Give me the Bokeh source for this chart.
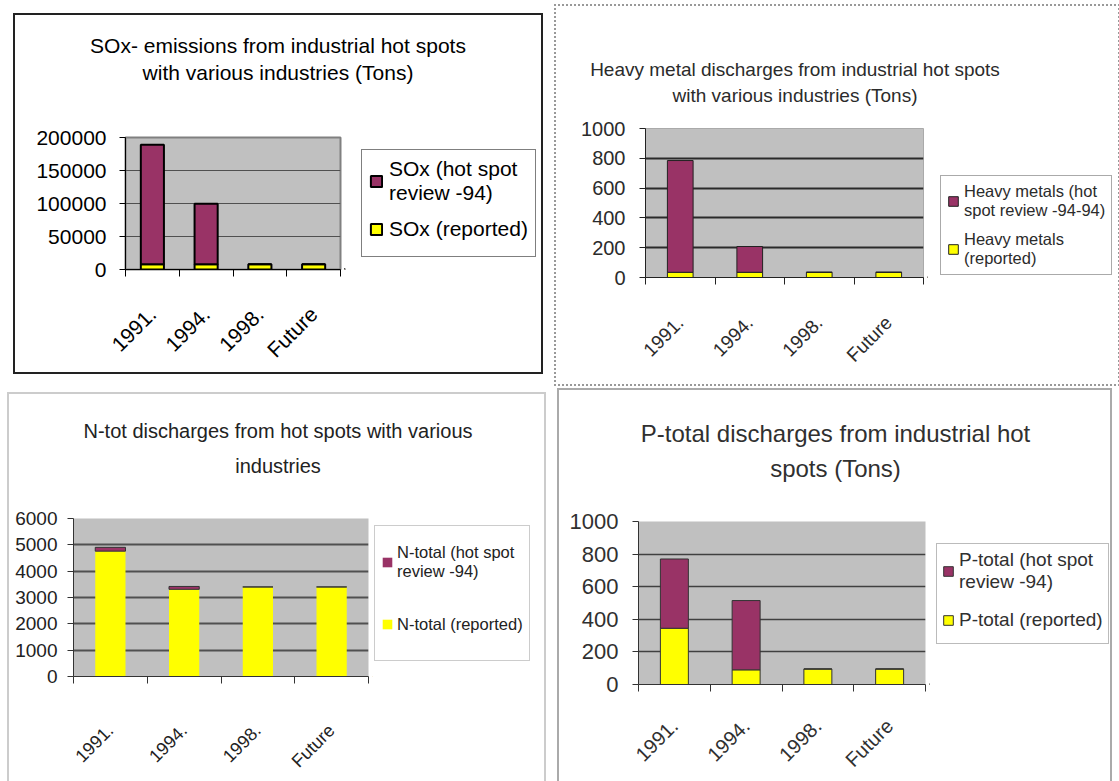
import math
from bokeh.plotting import figure
from bokeh.models import (ColumnDataSource, Range1d, FixedTicker, Spacer, Label,
                          Legend, LegendItem, BasicTickFormatter)
from bokeh.layouts import row, column
from bokeh.embed import file_html
from bokeh.resources import INLINE

categories = ["1991.", "1994.", "1998.", "Future"]

sox_reported = [8000, 8000, 8000, 8000]
sox_hotspot = [181000, 91500, 0, 0]
sox_ticks = [0, 50000, 100000, 150000, 200000]
sox_title = ["SOx- emissions from industrial hot spots", "with various industries (Tons)"]
sox_legend = ["SOx (hot spot\nreview -94)", "SOx (reported)"]

hm_reported = [35, 35, 35, 35]
hm_hotspot = [750, 173, 0, 0]
hm_ticks = [0, 200, 400, 600, 800, 1000]
hm_title = ["Heavy metal discharges from industrial hot spots", "with various industries (Tons)"]
hm_legend = ["Heavy metals (hot\nspot review -94-94)", "Heavy metals\n(reported)"]

n_reported = [4760, 3310, 3400, 3400]
n_hotspot = [145, 110, 0, 0]
n_ticks = [0, 1000, 2000, 3000, 4000, 5000, 6000]
n_title = ["N-tot discharges from hot spots with various", "industries"]
n_legend = ["N-total (hot spot\nreview -94)", "N-total (reported)"]

p_reported = [345, 90, 95, 95]
p_hotspot = [425, 425, 0, 0]
p_ticks = [0, 200, 400, 600, 800, 1000]
p_title = ["P-total discharges from industrial hot", "spots (Tons)"]
p_legend = ["P-total (hot spot\nreview -94)", "P-total (reported)"]

YELLOW = "#FFFF00"
PURPLE = "#993366"
FONT = "Liberation Sans"


def bare_figure(w, h):
    f = figure(width=w, height=h, x_range=Range1d(0, w), y_range=Range1d(0, h),
               output_backend="svg", toolbar_location=None, title_location=None,
               x_axis_location=None, y_axis_location=None,
               min_border_left=0, min_border_right=0, min_border_top=0, min_border_bottom=0,
               background_fill_color="white", border_fill_color="white")
    f.outline_line_color = None
    f.grid.visible = False
    return f


def make_panel(reported, hotspot, ticks, title_lines, legend_labels, g):
    Wi, Hi = g["inner"]
    Ht = g["title_h"]
    Wp = g["plot_w"]
    Hp = Hi - Ht
    mbl, mbt, mbr, mbb = g["mb"]
    tc = g["text_color"]
    n = len(categories)
    centers = [i + 0.5 for i in range(n)]

    # ---- title strip
    tf = bare_figure(Wi, Ht)
    for txt, (tx, ty) in zip(title_lines, g["title_xy"]):
        tf.add_layout(Label(x=tx, y=ty, text=txt, text_align="center",
                            text_baseline="alphabetic", text_font=FONT,
                            text_font_size=f"{g['title_fs']}px", text_color=tc))

    # ---- plot
    p = figure(width=Wp, height=Hp, x_range=Range1d(0, n),
               y_range=Range1d(0, ticks[-1]), output_backend="svg",
               toolbar_location=None, title_location=None,
               min_border_left=mbl, min_border_top=mbt,
               min_border_right=mbr, min_border_bottom=mbb,
               background_fill_color="#C0C0C0", border_fill_color="white")
    p.outline_line_color = g["outline"]
    p.outline_line_width = g.get("outline_w", 1)

    ya = p.yaxis[0]
    ya.ticker = FixedTicker(ticks=ticks)
    ya.formatter = BasicTickFormatter(use_scientific=False)
    ya.major_label_text_font = FONT
    ya.major_label_text_font_size = g["ytick_fs"]
    ya.major_label_text_color = tc
    ya.major_tick_out = 6
    ya.major_tick_in = 0
    ya.major_tick_line_color = g["axis_color"]
    ya.minor_tick_line_color = None
    ya.axis_line_color = g["axis_color"]
    ya.major_label_standoff = g["ystandoff"]
    p.ygrid.ticker = FixedTicker(ticks=ticks)
    p.ygrid.grid_line_color = g["grid_color"]
    p.ygrid.grid_line_width = g["grid_w"]
    p.xgrid.visible = False

    xa = p.xaxis[0]
    xa.ticker = FixedTicker(ticks=centers, minor_ticks=list(range(n + 1)))
    xa.major_label_overrides = {c: lab for c, lab in zip(centers, categories)}
    xa.major_label_orientation = math.pi / 4
    xa.major_tick_line_color = None
    xa.major_tick_out = 0
    xa.major_tick_in = 0
    xa.minor_tick_line_color = g["axis_color"]
    xa.minor_tick_out = 7
    xa.minor_tick_in = 0
    xa.axis_line_color = g["axis_color"]
    xa.major_label_standoff = g["xstandoff"]
    xa.major_label_text_font = FONT
    xa.major_label_text_font_size = g["xtick_fs"]
    xa.major_label_text_color = tc

    src = ColumnDataSource(dict(x=centers, reported=reported, hotspot=hotspot))
    p.vbar_stack(["reported", "hotspot"], x="x", width=g["bw"], source=src,
                 fill_color=[YELLOW, PURPLE], line_color=g["bar_lc"],
                 line_width=g["bar_lw"])

    # ---- legend strip (its frame is aligned with the plot frame by the row)
    Wl = Wi - Wp
    lf = bare_figure(Wl, Hp)
    lg = g["legend"]
    # legend swatches: one off-view bar each so the legend has a glyph to draw
    r_hot = lf.vbar(x=[-50], top=[1], width=0.5, fill_color=PURPLE,
                    line_color=lg["glyph_lc"], line_width=g["bar_lw"])
    r_rep = lf.vbar(x=[-50], top=[1], width=0.5, fill_color=YELLOW,
                    line_color=lg["glyph_lc"], line_width=g["bar_lw"])
    fs = lg["fs"]
    item_h = [max(lg["label_h"], (lab.count("\n") + 1) * fs * lg["lh"])
              for lab in legend_labels]
    h_est = 2 * lg["padding"] + sum(item_h) + lg["spacing"] * (len(item_h) - 1)
    lx, ltop = lg["pos"]
    legend = Legend(items=[LegendItem(label=legend_labels[0], renderers=[r_hot]),
                           LegendItem(label=legend_labels[1], renderers=[r_rep])],
                    location=(lx, Hp - mbb - ltop - h_est), margin=0,
                    label_text_font=FONT, label_text_font_size=f"{fs}px",
                    label_text_color=tc, label_text_line_height=lg["lh"],
                    glyph_width=lg["glyph"], glyph_height=lg["glyph"],
                    label_standoff=lg["standoff"], padding=lg["padding"],
                    spacing=lg["spacing"], label_width=lg["lw"], label_height=lg["label_h"],
                    border_line_color=lg["border"], border_line_width=1,
                    background_fill_color="white", background_fill_alpha=1.0)
    lf.add_layout(legend, "center")

    return column(tf, row(p, lf), styles={"outline": g["css_outline"]})


g1 = dict(inner=(526, 357), title_h=100, plot_w=329, mb=(110, 22, 4, 103),
          css_outline="2px solid #222222", outline="#808080", outline_w=2,
          text_color="#000000", ytick_fs="21px", xtick_fs="21px", title_fs=21,
          ystandoff=13, xstandoff=34, axis_color="#000000",
          grid_color="#505050", grid_w=1, bw=0.43, bar_lc="black", bar_lw=2,
          title_xy=[(262.5, 70), (262.5, 43.3)],
          legend=dict(pos=(17, 34), fs=21, lh=1.2, glyph=14, standoff=6, padding=7,
                      spacing=4, lw=139, label_h=40, border="#000000", glyph_lc="black"))

g2 = dict(inner=(562, 378), title_h=100, plot_w=371, mb=(89, 22, 4, 107),
          css_outline="2px dotted #999999", outline="#aaaaaa",
          text_color="#2b2b2b", ytick_fs="20px", xtick_fs="19px", title_fs=19,
          ystandoff=14, xstandoff=35, axis_color="#222222",
          grid_color="#2a2a2a", grid_w=2, bw=0.37, bar_lc="#222222", bar_lw=1,
          title_xy=[(238.5, 37), (238.5, 11)],
          legend=dict(pos=(13, 55), fs=16.5, lh=1.4, glyph=12, standoff=5, padding=6,
                      spacing=10, lw=141, label_h=0, border="#555555", glyph_lc="#222222"))

g3 = dict(inner=(535, 387), title_h=105, plot_w=363, mb=(64, 19, 4, 97),
          css_outline="2px solid #cccccc", outline=None,
          text_color="#222222", ytick_fs="19px", xtick_fs="18px", title_fs=20,
          ystandoff=10, xstandoff=44, axis_color="#333333",
          grid_color="#505050", grid_w=2, bw=0.41, bar_lc=[None, "#333333"], bar_lw=1,
          title_xy=[(268.5, 69), (268.5, 34)],
          legend=dict(pos=(2, 36), fs=16.5, lh=1.5, glyph=12, standoff=4, padding=6,
                      spacing=2, lw=123, label_h=60, border="#999999", glyph_lc=None))

g4 = dict(inner=(551, 391), title_h=110, plot_w=370, mb=(79, 21, 4, 89),
          css_outline="2px solid #aaaaaa", outline=None,
          text_color="#303030", ytick_fs="22px", xtick_fs="20px", title_fs=24,
          ystandoff=14, xstandoff=31, axis_color="#333333",
          grid_color="#404040", grid_w=1.5, bw=0.39, bar_lc="#333333", bar_lw=1,
          title_xy=[(276, 67), (276, 32)],
          legend=dict(pos=(7, 48), fs=19, lh=1.3, glyph=12, standoff=5, padding=5,
                      spacing=9, lw=141, label_h=36, border="#777777", glyph_lc="#333333"))

c1 = make_panel(sox_reported, sox_hotspot, sox_ticks, sox_title, sox_legend, g1)
c2 = make_panel(hm_reported, hm_hotspot, hm_ticks, hm_title, hm_legend, g2)
c3 = make_panel(n_reported, n_hotspot, n_ticks, n_title, n_legend, g3)
c4 = make_panel(p_reported, p_hotspot, p_ticks, p_title, p_legend, g4)

row1 = row(Spacer(width=15, height=10), column(Spacer(width=10, height=15), c1),
           Spacer(width=15, height=10), column(Spacer(width=10, height=6), c2))
row2 = row(Spacer(width=9, height=10), column(Spacer(width=10, height=10), c3),
           Spacer(width=15, height=10), column(Spacer(width=10, height=6), c4))
layout = column(row1, row2)
open("out.html", "w").write(file_html(layout, INLINE))
